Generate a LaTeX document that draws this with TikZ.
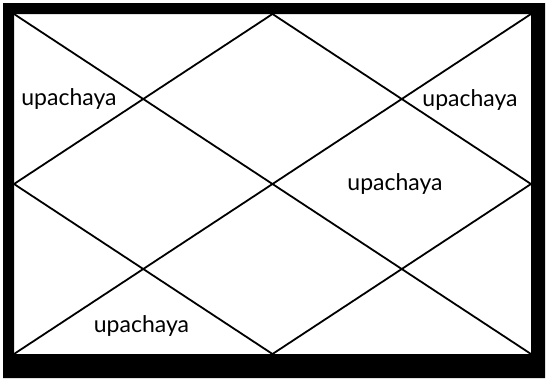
\documentclass[tikz,border=0pt]{standalone}
\usepackage{fontspec}
\setmainfont{Lato}
\begin{document}
\begin{tikzpicture}[x=1pt,y=-1pt,
  gridline/.style={line width=1.8pt,black},
  lbl/.style={anchor=base,inner sep=0pt,font=\fontsize{23}{26}\selectfont}]
\useasboundingbox (0,0) rectangle (548,381);
\fill[black,even odd rule] (3,3) rectangle (545,378) (14,14) rectangle (531,354);
\coordinate (tl) at (14,14);
\coordinate (tr) at (531,14);
\coordinate (bl) at (14,354);
\coordinate (br) at (531,354);
\coordinate (tm) at (272.5,14);
\coordinate (bm) at (272.5,354);
\coordinate (lm) at (14,184);
\coordinate (rm) at (531,184);
\draw[gridline] (tl) -- (br);
\draw[gridline] (tr) -- (bl);
\draw[gridline] (tm) -- (rm) -- (bm) -- (lm) -- cycle;
\node[lbl] (l1) at (69,105) {upachaya};
\node[lbl] (l2) at (470,106) {upachaya};
\node[lbl] (l3) at (395,190) {upachaya};
\node[lbl] (l4) at (141.5,332) {upachaya};
\end{tikzpicture}
\end{document}
